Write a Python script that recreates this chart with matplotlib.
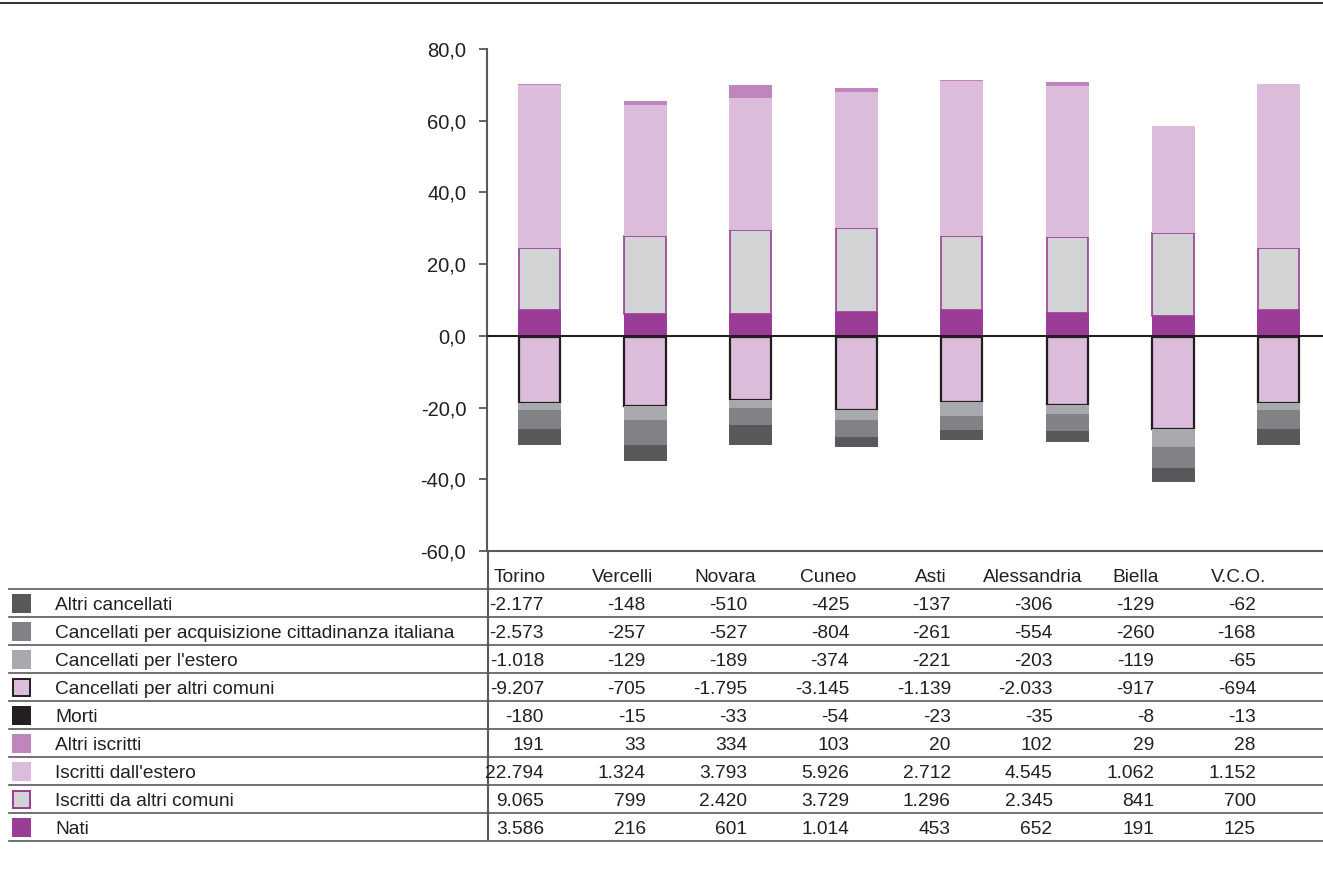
import numpy as np
import matplotlib.pyplot as plt
from matplotlib.lines import Line2D
from matplotlib.patches import Rectangle

plt.rcParams['font.family'] = ['Liberation Sans', 'DejaVu Sans']

province = ["Torino", "Vercelli", "Novara", "Cuneo", "Asti", "Alessandria", "Biella", "V.C.O."]

# bar heights (rates)
nati = [7.3, 6.1, 6.0, 6.7, 7.3, 6.3, 5.4, 7.3]
isc_comuni = [17.3, 21.8, 23.4, 23.5, 20.5, 21.2, 23.3, 17.3]
isc_estero = [45.4, 36.6, 37.0, 37.9, 43.3, 42.3, 29.8, 45.6]
altri_isc = [0.3, 1.0, 3.5, 1.0, 0.2, 1.0, 0.0, 0.0]
morti = [-0.4, -0.4, -0.3, -0.35, -0.35, -0.3, -0.2, -0.4]
canc_comuni = [-18.2, -19.3, -17.5, -20.35, -18.15, -19.0, -25.8, -18.2]
canc_estero = [-2.0, -3.7, -2.2, -2.7, -3.8, -2.4, -4.9, -2.0]
canc_acq = [-5.3, -7.0, -4.8, -4.7, -3.9, -4.8, -5.9, -5.3]
altri_canc = [-4.5, -4.4, -5.6, -3.0, -2.8, -3.0, -3.9, -4.5]

# table (absolute values, as printed)
tab_labels = ["Altri cancellati",
              "Cancellati per acquisizione cittadinanza italiana",
              "Cancellati per l'estero",
              "Cancellati per altri comuni",
              "Morti",
              "Altri iscritti",
              "Iscritti dall'estero",
              "Iscritti da altri comuni",
              "Nati"]
t_altri_canc = ["-2.177", "-148", "-510", "-425", "-137", "-306", "-129", "-62"]
t_canc_acq = ["-2.573", "-257", "-527", "-804", "-261", "-554", "-260", "-168"]
t_canc_estero = ["-1.018", "-129", "-189", "-374", "-221", "-203", "-119", "-65"]
t_canc_comuni = ["-9.207", "-705", "-1.795", "-3.145", "-1.139", "-2.033", "-917", "-694"]
t_morti = ["-180", "-15", "-33", "-54", "-23", "-35", "-8", "-13"]
t_altri_isc = ["191", "33", "334", "103", "20", "102", "29", "28"]
t_isc_estero = ["22.794", "1.324", "3.793", "5.926", "2.712", "4.545", "1.062", "1.152"]
t_isc_comuni = ["9.065", "799", "2.420", "3.729", "1.296", "2.345", "841", "700"]
t_nati = ["3.586", "216", "601", "1.014", "453", "652", "191", "125"]

C_NATI = "#9b3c96"
C_ISC_COM = "#d1d3d4"
C_ISC_EST = "#dbbcda"
C_ALTRI_ISC = "#be86bc"
C_MORTI = "#231f20"
C_CANC_COM = "#dbbcda"
C_CANC_EST = "#a7a9ac"
C_CANC_ACQ = "#808285"
C_ALTRI_CANC = "#58595b"

W, H = 1323, 873
fig = plt.figure(figsize=(W / 100, H / 100), dpi=100)

def fx(px):
    return px / W

def fy(py):
    return 1 - py / H

ax = fig.add_axes([fx(487), fy(551), fx(1323 - 487), fy(49) - fy(551)])
x = np.arange(len(province))
bw = 0.407

# positive stack
b = np.zeros(len(x))
ax.bar(x, nati, bw, bottom=b, color=C_NATI, lw=0)
b += nati
ax.bar(x, isc_comuni, bw * 0.96, bottom=b, color=C_ISC_COM, edgecolor=C_NATI, lw=1.2)
b += isc_comuni
ax.bar(x, isc_estero, bw, bottom=b, color=C_ISC_EST, lw=0)
b += isc_estero
ax.bar(x, altri_isc, bw, bottom=b, color=C_ALTRI_ISC, lw=0)

# negative stack
b = np.zeros(len(x))
ax.bar(x, morti, bw, bottom=b, color=C_MORTI, lw=0)
b += morti
ax.bar(x, canc_comuni, bw * 0.96, bottom=b, color=C_CANC_COM, edgecolor=C_MORTI, lw=1.6)
b += canc_comuni
ax.bar(x, canc_estero, bw, bottom=b, color=C_CANC_EST, lw=0)
b += canc_estero
ax.bar(x, canc_acq, bw, bottom=b, color=C_CANC_ACQ, lw=0)
b += canc_acq
ax.bar(x, altri_canc, bw, bottom=b, color=C_ALTRI_CANC, lw=0)

ax.axhline(0, color=C_MORTI, lw=1.5, zorder=3)
ax.set_ylim(-60, 80)
ax.set_xlim(-0.497, 7.42)
ax.set_yticks(np.arange(-60, 81, 20))
ax.set_yticklabels([f"{v:.1f}".replace(".", ",") for v in np.arange(-60, 81, 20)])
ax.set_xticks([])
ax.tick_params(axis='y', length=6, width=1.3, color="#58595b", labelsize=14.5,
               pad=9, labelcolor="#231f20")
for s in ["top", "right"]:
    ax.spines[s].set_visible(False)
ax.spines["left"].set_color("#58595b")
ax.spines["left"].set_linewidth(1.5)
ax.spines["bottom"].set_color("#58595b")
ax.spines["bottom"].set_linewidth(1.5)

# top rule
fig.add_artist(Line2D([0, 1], [fy(3), fy(3)], color="#231f20", lw=1.3))
# vertical line through table
fig.add_artist(Line2D([fx(487.5), fx(487.5)], [fy(551), fy(839)], color="#58595b", lw=1.5))

# table
rows = [t_altri_canc, t_canc_acq, t_canc_estero, t_canc_comuni, t_morti,
        t_altri_isc, t_isc_estero, t_isc_comuni, t_nati]
sw_colors = [C_ALTRI_CANC, C_CANC_ACQ, C_CANC_EST, C_CANC_COM, C_MORTI,
             C_ALTRI_ISC, C_ISC_EST, C_ISC_COM, C_NATI]
sw_edges = [None, None, None, C_MORTI, None, None, None, C_NATI, None]

fs = 13.8
for i, name in enumerate(province):
    fig.text(fx(520 + 102.6 * i), fy(578), name, ha="center", va="center",
             fontsize=fs, color="#231f20")

for k in range(10):
    yl = 589 + 28 * k
    fig.add_artist(Line2D([fx(9), 1], [fy(yl), fy(yl)], color="#58595b", lw=1.2))

for r, (lab, vals) in enumerate(zip(tab_labels, rows)):
    yc = 603 + 28 * r
    if sw_edges[r] is None:
        rect = Rectangle((fx(12), fy(yc + 9.5)), fx(19), fy(yc - 9.5) - fy(yc + 9.5),
                         transform=fig.transFigure, facecolor=sw_colors[r], lw=0)
    else:
        rect = Rectangle((fx(13), fy(yc + 8.5)), fx(17), fy(yc - 8.5) - fy(yc + 8.5),
                         transform=fig.transFigure, facecolor=sw_colors[r],
                         edgecolor=sw_edges[r], lw=1.4)
    fig.add_artist(rect)
    fig.text(fx(55), fy(yc + 2), lab, ha="left", va="center", fontsize=fs, color="#231f20")
    for i, v in enumerate(vals):
        fig.text(fx(544 + 101.7 * i), fy(yc + 2), v, ha="right", va="center",
                 fontsize=fs, color="#231f20")

fig.savefig("out.png", dpi=100)
